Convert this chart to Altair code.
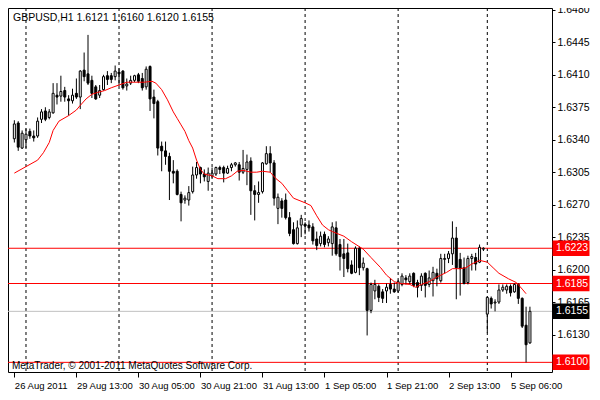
import altair as alt
import pandas as pd

# ---- data (GBPUSD H1) ----
opens = [1.6341, 1.6358, 1.6331, 1.6340, 1.6349, 1.6344, 1.6344, 1.6362, 1.6371, 1.6364,
         1.6369, 1.6388, 1.6387, 1.6393, 1.6384, 1.6382, 1.6390, 1.6386, 1.6415, 1.6411,
         1.6404, 1.6397, 1.6388, 1.6394, 1.6409, 1.6409, 1.6408, 1.6413, 1.6414, 1.6398,
         1.6401, 1.6404, 1.6410, 1.6406, 1.6397, 1.6419, 1.6386, 1.6381, 1.6333, 1.6328,
         1.6322, 1.6306, 1.6306, 1.6281, 1.6275, 1.6275, 1.6284, 1.6302, 1.6310, 1.6303,
         1.6295, 1.6301, 1.6303, 1.6310, 1.6310, 1.6304, 1.6310, 1.6313, 1.6313, 1.6305,
         1.6308, 1.6317, 1.6285, 1.6281, 1.6284, 1.6314, 1.6325, 1.6315, 1.6266, 1.6274,
         1.6275, 1.6256, 1.6243, 1.6228, 1.6248, 1.6249, 1.6248, 1.6246, 1.6233, 1.6228,
         1.6238, 1.6229, 1.6228, 1.6245, 1.6227, 1.6217, 1.6218, 1.6205, 1.6197, 1.6223,
         1.6202, 1.6201, 1.6156, 1.6177, 1.6182, 1.6176, 1.6177, 1.6184, 1.6179, 1.6177,
         1.6184, 1.6191, 1.6187, 1.6196, 1.6186, 1.6183, 1.6196, 1.6184, 1.6188, 1.6196,
         1.6188, 1.6211, 1.6212, 1.6217, 1.6234, 1.6211, 1.6202, 1.6186, 1.6212, 1.6213,
         1.6208, 1.6222, 1.6152, 1.6169, 1.6164, 1.6165, 1.6178, 1.6178, 1.6182, 1.6176,
         1.6184, 1.6169, 1.6140, 1.6121]
highs = [1.6361, 1.6360, 1.6350, 1.6352, 1.6352, 1.6350, 1.6364, 1.6373, 1.6375, 1.6373,
         1.6401, 1.6401, 1.6409, 1.6397, 1.6388, 1.6395, 1.6406, 1.6415, 1.6434, 1.6453,
         1.6409, 1.6399, 1.6399, 1.6410, 1.6414, 1.6412, 1.6420, 1.6417, 1.6415, 1.6406,
         1.6409, 1.6410, 1.6412, 1.6412, 1.6419, 1.6420, 1.6394, 1.6383, 1.6338, 1.6338,
         1.6326, 1.6318, 1.6308, 1.6284, 1.6280, 1.6290, 1.6311, 1.6316, 1.6311, 1.6308,
         1.6310, 1.6310, 1.6311, 1.6312, 1.6312, 1.6312, 1.6315, 1.6316, 1.6316, 1.6329,
         1.6324, 1.6321, 1.6291, 1.6295, 1.6316, 1.6333, 1.6333, 1.6318, 1.6282, 1.6277,
         1.6282, 1.6262, 1.6251, 1.6253, 1.6259, 1.6251, 1.6253, 1.6250, 1.6241, 1.6241,
         1.6241, 1.6236, 1.6251, 1.6252, 1.6233, 1.6233, 1.6228, 1.6210, 1.6225, 1.6225,
         1.6213, 1.6202, 1.6186, 1.6189, 1.6184, 1.6179, 1.6185, 1.6191, 1.6186, 1.6189,
         1.6196, 1.6194, 1.6196, 1.6197, 1.6189, 1.6196, 1.6197, 1.6199, 1.6203, 1.6201,
         1.6217, 1.6217, 1.6220, 1.6252, 1.6246, 1.6218, 1.6213, 1.6215, 1.6217, 1.6218,
         1.6227, 1.6224, 1.6171, 1.6171, 1.6168, 1.6184, 1.6184, 1.6184, 1.6184, 1.6185,
         1.6185, 1.6170, 1.6160, 1.6160]
lows = [1.6337, 1.6328, 1.6330, 1.6331, 1.6341, 1.6338, 1.6342, 1.6358, 1.6360, 1.6362,
        1.6368, 1.6378, 1.6381, 1.6381, 1.6366, 1.6379, 1.6384, 1.6373, 1.6403, 1.6399,
        1.6385, 1.6383, 1.6385, 1.6393, 1.6399, 1.6401, 1.6404, 1.6398, 1.6394, 1.6393,
        1.6399, 1.6402, 1.6401, 1.6393, 1.6394, 1.6371, 1.6363, 1.6323, 1.6306, 1.6313,
        1.6275, 1.6293, 1.6280, 1.6252, 1.6271, 1.6269, 1.6282, 1.6298, 1.6293, 1.6295,
        1.6285, 1.6299, 1.6301, 1.6303, 1.6294, 1.6303, 1.6306, 1.6311, 1.6296, 1.6303,
        1.6291, 1.6259, 1.6253, 1.6272, 1.6282, 1.6313, 1.6305, 1.6269, 1.6249, 1.6256,
        1.6254, 1.6236, 1.6227, 1.6227, 1.6235, 1.6238, 1.6241, 1.6227, 1.6221, 1.6225,
        1.6224, 1.6225, 1.6215, 1.6215, 1.6199, 1.6192, 1.6197, 1.6195, 1.6196, 1.6194,
        1.6199, 1.6129, 1.6153, 1.6168, 1.6165, 1.6164, 1.6164, 1.6174, 1.6175, 1.6175,
        1.6182, 1.6184, 1.6184, 1.6181, 1.6170, 1.6177, 1.6170, 1.6181, 1.6171, 1.6182,
        1.6186, 1.6196, 1.6207, 1.6205, 1.6168, 1.6172, 1.6184, 1.6184, 1.6199, 1.6199,
        1.6207, 1.6220, 1.6132, 1.6158, 1.6155, 1.6163, 1.6176, 1.6174, 1.6171, 1.6175,
        1.6163, 1.6137, 1.6100, 1.6120]
closes = [1.6357, 1.6332, 1.6347, 1.6346, 1.6344, 1.6342, 1.6360, 1.6370, 1.6362, 1.6370,
          1.6390, 1.6386, 1.6392, 1.6386, 1.6382, 1.6388, 1.6386, 1.6414, 1.6408, 1.6401,
          1.6390, 1.6384, 1.6393, 1.6408, 1.6405, 1.6405, 1.6414, 1.6411, 1.6396, 1.6400,
          1.6404, 1.6409, 1.6403, 1.6396, 1.6416, 1.6384, 1.6379, 1.6331, 1.6328, 1.6322,
          1.6306, 1.6304, 1.6281, 1.6272, 1.6277, 1.6283, 1.6302, 1.6310, 1.6303, 1.6300,
          1.6304, 1.6304, 1.6310, 1.6308, 1.6304, 1.6309, 1.6313, 1.6315, 1.6305, 1.6309,
          1.6316, 1.6285, 1.6281, 1.6283, 1.6315, 1.6325, 1.6315, 1.6277, 1.6278, 1.6266,
          1.6256, 1.6239, 1.6228, 1.6245, 1.6255, 1.6247, 1.6245, 1.6231, 1.6226, 1.6236,
          1.6227, 1.6233, 1.6246, 1.6217, 1.6214, 1.6212, 1.6201, 1.6196, 1.6223, 1.6202,
          1.6207, 1.6156, 1.6184, 1.6184, 1.6170, 1.6169, 1.6181, 1.6179, 1.6176, 1.6187,
          1.6193, 1.6189, 1.6193, 1.6183, 1.6181, 1.6193, 1.6183, 1.6191, 1.6197, 1.6190,
          1.6212, 1.6212, 1.6217, 1.6234, 1.6202, 1.6201, 1.6185, 1.6212, 1.6214, 1.6206,
          1.6224, 1.6223, 1.6170, 1.6163, 1.6165, 1.6178, 1.6181, 1.6182, 1.6175, 1.6184,
          1.6169, 1.6139, 1.6119, 1.6155]

ma_idx = [0, 3, 6, 7.5, 9, 10, 11.5, 14, 16, 17, 18.5, 20, 21.5, 23.3, 25, 27, 29, 31, 33.5, 35.5,
          36.5, 38, 39.5, 41, 42, 43, 44, 45, 46, 47, 48, 49, 51, 52.5, 54.5, 56, 57.5, 59, 61, 62.5,
          64, 66, 67.5, 69, 70.5, 72, 75, 76.5, 78, 79.5, 81, 82, 85, 87, 90, 92, 94.5, 96, 98, 99.5,
          102, 103.5, 105, 107, 109, 111.5, 113, 115, 116.5, 118, 120, 122, 123.5, 125, 127.5, 129.5, 131, 132]
ma_vals = [1.6304, 1.6311, 1.6318, 1.6326, 1.6337, 1.6350, 1.6360, 1.6366, 1.6372, 1.6377,
           1.6384, 1.6389, 1.6391, 1.6393, 1.6396, 1.6399, 1.6402, 1.6402, 1.6402, 1.6403,
           1.6401, 1.6394, 1.6383, 1.6370, 1.6363, 1.6356, 1.6349, 1.6339, 1.6331, 1.6318,
           1.6308, 1.6303, 1.6301, 1.6298, 1.6298, 1.6301, 1.6306, 1.6307, 1.6305, 1.6305,
           1.6306, 1.6305, 1.6298, 1.6293, 1.6285, 1.6277, 1.6272, 1.6269, 1.6258, 1.6248,
           1.6243, 1.6241, 1.6236, 1.6230, 1.6222, 1.6213, 1.6202, 1.6194, 1.6187, 1.6185,
           1.6184, 1.6181, 1.6184, 1.6187, 1.6192, 1.6197, 1.6201, 1.6201, 1.6202, 1.6206,
           1.6210, 1.6208, 1.6202, 1.6196, 1.6190, 1.6186, 1.6179, 1.6174]

x_label_idx = [0, 16, 32, 48, 64, 80, 96, 112, 128]
x_labels = ["26 Aug 2011", "29 Aug 13:00", "30 Aug 05:00", "30 Aug 21:00", "31 Aug 13:00",
            "1 Sep 05:00", "1 Sep 21:00", "2 Sep 13:00", "5 Sep 06:00"]
day_sep_idx = [3, 27, 51, 75, 99, 122]
y_ticks = [1.6480, 1.6445, 1.6410, 1.6375, 1.6340, 1.6305, 1.6270, 1.6235,
           1.6200, 1.6165, 1.6130, 1.6095]
level_prices = [1.6223, 1.6185, 1.6155, 1.6100]
level_line_colors = ["#ff0000", "#ff0000", "#c0c0c0", "#ff0000"]
level_box_colors = ["#ff0000", "#ff0000", "#000000", "#ff0000"]
title_text = "GBPUSD,H1  1.6121 1.6160 1.6120 1.6155"
copyright_text = "MetaTrader, \u00a9 2001-2011 MetaQuotes Software Corp."

# ---- build tables ----
n = len(opens)
candles = pd.DataFrame({"i": list(range(n)), "open": opens, "high": highs,
                        "low": lows, "close": closes})
candles["dir"] = ["up" if c >= o else "down" for o, c in zip(opens, closes)]
ma_df = pd.DataFrame({"i": ma_idx, "ma": ma_vals})
sep_df = pd.DataFrame({"i": day_sep_idx})
lvl_df = pd.DataFrame({"price": level_prices, "line": level_line_colors,
                       "box": level_box_colors,
                       "label": [f"{p:.4f}" for p in level_prices]})

W, H = 544, 364
FONT = "Liberation Sans"

xs = alt.Scale(domain=[-0.35, 137.4], nice=False, zero=False)
ys = alt.Scale(domain=[1.60896, 1.6482], nice=False, zero=False)

lab_arr = "[" + ",".join(f"'{s}'" for s in x_labels) + "]"
idx_arr = "[" + ",".join(str(v) for v in x_label_idx) + "]"
x_axis = alt.Axis(values=x_label_idx, labelExpr=f"{lab_arr}[indexof({idx_arr}, datum.value)]",
                  orient="bottom", domain=False, grid=False, ticks=True, tickSize=5,
                  tickColor="black", labelAlign="left", labelPadding=3, labelFont=FONT,
                  labelFontSize=9.5, labelColor="black", labelOverlap=False,
                  labelBound=False, labelFlush=False, title=None)
y_axis = alt.Axis(values=y_ticks, format=".4f", orient="right", domain=False, grid=False,
                  tickSize=3, tickColor="black", labelPadding=2, labelFont=FONT,
                  labelFontSize=10.5, labelColor="black", labelOverlap=False,
                  labelBound=False, labelFlush=False, title=None)

X = alt.X("i:Q", scale=xs, axis=x_axis)

seps = alt.Chart(sep_df).mark_rule(color="black", strokeWidth=1, strokeDash=[3, 3]).encode(x=X)

hlines = alt.Chart(lvl_df).mark_rule(strokeWidth=1).encode(
    y=alt.Y("price:Q", scale=ys, axis=y_axis),
    color=alt.Color("line:N", scale=None))

wicks = alt.Chart(candles).mark_rule(color="black", strokeWidth=1).encode(
    x=X, y=alt.Y("low:Q", scale=ys, axis=y_axis), y2="high:Q")

bodies = alt.Chart(candles).mark_bar(width=2, stroke="black", strokeWidth=1).encode(
    x=X, y=alt.Y("open:Q", scale=ys, axis=y_axis), y2="close:Q",
    fill=alt.Fill("dir:N", scale=alt.Scale(domain=["up", "down"], range=["white", "black"]),
                  legend=None))

ma_line = alt.Chart(ma_df).mark_line(color="#ff0000", strokeWidth=1).encode(
    x=X, y=alt.Y("ma:Q", scale=ys, axis=y_axis))

boxes = alt.Chart(lvl_df).mark_point(
    shape="M-1,-0.42L1,-0.42L1,0.42L-1,0.42Z", size=37 * 37, filled=True,
    opacity=1, strokeWidth=0).encode(
    x=alt.value(W + 19), y=alt.Y("price:Q", scale=ys, axis=y_axis),
    color=alt.Color("box:N", scale=None))

box_text = alt.Chart(lvl_df).mark_text(
    align="left", baseline="middle", color="white", font=FONT, fontSize=10.5).encode(
    x=alt.value(W + 4), y=alt.Y("price:Q", scale=ys, axis=y_axis), text="label:N")

title = alt.Chart(pd.DataFrame({"t": [title_text]})).mark_text(
    align="left", baseline="middle", color="black", font=FONT, fontSize=10.5).encode(
    x=alt.value(5), y=alt.value(10), text="t:N")

copyright = alt.Chart(pd.DataFrame({"t": [copyright_text]})).mark_text(
    align="left", baseline="middle", color="black", font=FONT, fontSize=10).encode(
    x=alt.value(4), y=alt.value(H - 6), text="t:N")

chart = alt.layer(seps, hlines, wicks, bodies, ma_line, boxes, box_text, title, copyright).properties(
    width=W, height=H,
    autosize=alt.AutoSizeParams(type="none"),
    padding={"left": 0, "top": 0, "right": 40, "bottom": 20},
    background="white",
).configure_view(stroke="black", strokeWidth=1)

chart.save("out.html", embed_options={"renderer": "svg", "actions": False})
